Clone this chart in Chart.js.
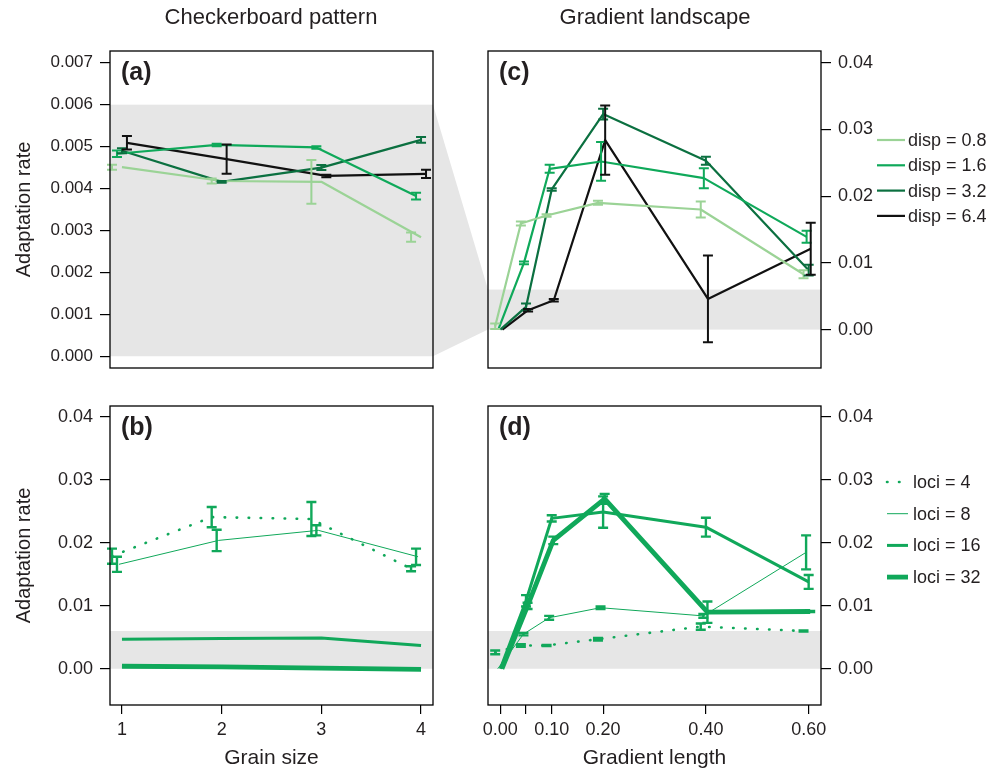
<!DOCTYPE html>
<html>
<head>
<meta charset="utf-8">
<script src="https://cdn.jsdelivr.net/npm/chart.js@4.4.1/dist/chart.umd.min.js"></script>
<style>
  body { margin:0; background:#fff; width:989px; height:773px; position:relative; overflow:hidden;
         font-family:"Liberation Sans", Arial, sans-serif; color:#231f20; }
  canvas { position:absolute; }
  .coltitle { position:absolute; top:4px; font-size:22px; transform:translateX(-50%); white-space:nowrap; }
</style>
</head>
<body>
<canvas id="bg" width="989" height="773" style="left:0;top:0"></canvas>
<div class="coltitle" style="left:271px">Checkerboard pattern</div>
<div class="coltitle" style="left:655px">Gradient landscape</div>
<canvas id="panelA" width="445" height="340" style="left:0;top:40px"></canvas>
<canvas id="panelB" width="445" height="378" style="left:0;top:395px"></canvas>
<canvas id="panelC" width="544" height="340" style="left:445px;top:40px"></canvas>
<canvas id="panelD" width="544" height="378" style="left:445px;top:395px"></canvas>
<script>
// ---- data ----
const grainSize = [1, 2, 3, 4];
const gradientLength = [0, 0.05, 0.10, 0.20, 0.40, 0.60];
const checkerTicks = [0, 0.001, 0.002, 0.003, 0.004, 0.005, 0.006, 0.007];
const rateTicks = [0, 0.01, 0.02, 0.03, 0.04];
const shadeTop = 0.006;

const dispLabels = ['disp = 0.8', 'disp = 1.6', 'disp = 3.2', 'disp = 6.4'];
const lociLabels = ['loci = 4', 'loci = 8', 'loci = 16', 'loci = 32'];

// (a) checkerboard, by dispersal
const aDisp08 = [0.00451, 0.00418, 0.00416, 0.00284];
const aDisp08Err = [0.00006, 0.00006, 0.00052, 0.00011];
const aDisp16 = [0.00483, 0.00504, 0.00498, 0.00382];
const aDisp16Err = [0.00008, 0.00003, 0.00003, 0.00008];
const aDisp32 = [0.00490, 0.00416, 0.00450, 0.00516];
const aDisp32Err = [0.00006, 0.00002, 0.00006, 0.00007];
const aDisp64 = [0.00509, 0.00470, 0.00430, 0.00435];
const aDisp64Err = [0.00016, 0.00035, 0.00003, 0.00010];

// (b) checkerboard, by number of loci
const bLoci4 = [0.0179, 0.0241, 0.0238, 0.0159];
const bLoci4Err = [0.0012, 0.0016, 0.0027, 0.0004];
const bLoci8 = [0.0166, 0.0204, 0.0220, 0.0178];
const bLoci8Err = [0.0012, 0.0017, 0.0008, 0.0013];
const bLoci16 = [0.0047, 0.0048, 0.0049, 0.0037];
const bLoci16Err = [0, 0, 0, 0];
const bLoci32 = [0.0004, 0.0003, 0.0001, -0.0001];
const bLoci32Err = [0, 0, 0, 0];

// (c) gradient, by dispersal
const cDisp08 = [0.0005, 0.0159, 0.0171, 0.0190, 0.0180, 0.0083];
const cDisp08Err = [0.0004, 0.0003, 0.0002, 0.0003, 0.0012, 0.0006];
const cDisp16 = [0.0, 0.0100, 0.0241, 0.0252, 0.0227, 0.0139];
const cDisp16Err = [0, 0.0002, 0.0006, 0.0029, 0.0015, 0.0009];
const cDisp32 = [0.0, 0.0034, 0.0210, 0.0323, 0.0253, 0.0089];
const cDisp32Err = [0, 0.0005, 0.0002, 0.0008, 0.0006, 0.0008];
const cDisp64 = [0.0, 0.0029, 0.0044, 0.0284, 0.0046, 0.0121];
const cDisp64Err = [0, 0.0002, 0.0002, 0.0052, 0.0065, 0.0039];

// (d) gradient, by number of loci
const dLoci4 = [0.0026, 0.0037, 0.0037, 0.0047, 0.0067, 0.0060];
const dLoci4Err = [0.0003, 0.0002, 0.0001, 0.0002, 0.0005, 0.0001];
const dLoci8 = [0.0, 0.0055, 0.0081, 0.0097, 0.0084, 0.0185];
const dLoci8Err = [0, 0.0002, 0.0003, 0.0002, 0.0003, 0.0027];
const dLoci16 = [0.0, 0.0108, 0.0239, 0.0249, 0.0225, 0.0138];
const dLoci16Err = [0, 0.0009, 0.0005, 0.0025, 0.0015, 0.0011];
const dLoci32 = [0.0, 0.0100, 0.0204, 0.0270, 0.0090, 0.0091];
const dLoci32Err = [0, 0.0005, 0.0006, 0.0008, 0.0017, 0.0001];

// ---- styles ----
const FONT = '"Liberation Sans", Arial, sans-serif';
const INK = '#231f20';
const dispColors = ['#9bd396', '#0fa95a', '#0b7040', '#111111'];
const lociGreen = '#10a85a';
const lociWidths = [2.6, 1, 3, 4.8];
const lociDash = [[0.5, 11.5], [], [], []];
// small horizontal dodge so the bars don't overlap
const aLineDodge = [0, -0.05, 0, 0.05], aBarDodge = [-0.1, -0.05, 0, 0.05];
const bLineDodge = [-0.1, -0.03, 0, 0], bBarDodge = [-0.1, -0.05, 0, 0];
const cDodge = [-0.01, -0.004, 0, 0.004];
const dDodge = [-0.01, -0.005, 0, 0.003];

Chart.defaults.font.family = FONT;
Chart.defaults.color = INK;

function series(label, xs, ys, errs, color, width, dash, lineDx, barDx, errWidth) {
  return {
    label: label,
    data: xs.map((x, i) => ({x: x + lineDx, y: ys[i]})),
    xs: xs, ys: ys, errs: errs, barDx: barDx, errWidth: errWidth,
    borderColor: color, backgroundColor: color,
    borderWidth: width, borderDash: dash, borderCapStyle: dash.length ? 'round' : 'butt',
    borderJoinStyle: 'round', pointRadius: 0, tension: 0, fill: false
  };
}

const panelPlugin = {
  id: 'panel',
  beforeDatasetsDraw(chart, args, opts) {
    const {ctx, chartArea: a, scales: {y}} = chart;
    const y1 = y.getPixelForValue(shadeTop), y0 = y.getPixelForValue(0);
    ctx.save();
    ctx.fillStyle = '#e6e6e6';
    ctx.fillRect(a.left, y1, a.right - a.left, y0 - y1);
    ctx.restore();
  },
  afterDatasetsDraw(chart, args, opts) {
    const {ctx, chartArea: a, scales: {x, y}} = chart;
    ctx.save();
    // error bars
    chart.data.datasets.forEach(ds => {
      ctx.strokeStyle = ds.borderColor;
      ctx.lineWidth = ds.errWidth;
      ctx.setLineDash([]);
      ds.xs.forEach((xv, i) => {
        const e = ds.errs[i];
        if (!e) return;
        const px = x.getPixelForValue(xv + ds.barDx);
        const t = y.getPixelForValue(ds.ys[i] + e), b = y.getPixelForValue(ds.ys[i] - e);
        ctx.beginPath();
        ctx.moveTo(px, t); ctx.lineTo(px, b);
        ctx.moveTo(px - 5, t); ctx.lineTo(px + 5, t);
        ctx.moveTo(px - 5, b); ctx.lineTo(px + 5, b);
        ctx.stroke();
      });
    });
    // frame
    ctx.strokeStyle = '#000';
    ctx.lineWidth = 1.3;
    ctx.strokeRect(a.left, a.top, a.right - a.left, a.bottom - a.top);
    // panel tag
    ctx.fillStyle = INK;
    ctx.font = 'bold 25px ' + FONT;
    ctx.textAlign = 'left';
    ctx.textBaseline = 'middle';
    ctx.fillText(opts.tag, a.left + 11, a.top + 22);
    // legend at the right
    const L = opts.legend;
    if (L) {
      ctx.font = '18px ' + FONT;
      chart.data.datasets.forEach((ds, i) => {
        const yy = a.top + L.y0 + i * L.step;
        ctx.strokeStyle = ds.borderColor;
        ctx.lineWidth = ds.borderWidth;
        ctx.setLineDash(ds.borderDash);
        ctx.lineCap = ds.borderCapStyle;
        ctx.beginPath();
        ctx.moveTo(a.right + L.x0, yy);
        ctx.lineTo(a.right + L.x0 + L.len, yy);
        ctx.stroke();
        ctx.fillText(ds.label, a.right + L.tx, yy + 1);
      });
    }
    ctx.restore();
  }
};

function yAxis(pos, ticks, digits, min, max, width, title, size) {
  return {
    type: 'linear', position: pos, min: min, max: max,
    afterBuildTicks: s => { s.ticks = ticks.map(v => ({value: v})); },
    afterFit: s => { s.width = width; s.paddingTop = 0; s.paddingBottom = 0; },
    grid: {display: true, drawOnChartArea: false, drawTicks: true, tickLength: 10, color: '#000', lineWidth: 1.2},
    border: {display: false},
    ticks: {padding: 7, font: {size: size}, color: INK, callback: v => v.toFixed(digits)},
    title: title ? {display: true, text: title, font: {size: 20}, color: INK, padding: {top: 12, bottom: 0}} : {display: false}
  };
}

function xAxis(show, ticks, min, max, fmt, title) {
  return {
    type: 'linear', position: 'bottom', min: min, max: max, display: show,
    afterBuildTicks: s => { s.ticks = ticks.map(v => ({value: v})); },
    afterFit: s => { s.height = show ? 68 : 0; s.paddingLeft = 0; s.paddingRight = 0; },
    grid: {display: true, drawOnChartArea: false, drawTicks: true, tickLength: 9, color: '#000', lineWidth: 1.2},
    border: {display: false},
    ticks: {padding: 5, font: {size: 18}, color: INK, autoSkip: false, maxRotation: 0, callback: fmt},
    title: {display: !!title, text: title || '', font: {size: 21}, color: INK, padding: {top: 0, bottom: 2}}
  };
}

function makeChart(id, datasets, scales, padding, tag, legend) {
  return new Chart(document.getElementById(id), {
    type: 'line',
    data: {datasets: datasets},
    options: {
      responsive: false, animation: false, devicePixelRatio: 1,
      layout: {padding: padding},
      scales: scales,
      plugins: {legend: {display: false}, tooltip: {enabled: false}, panel: {tag: tag, legend: legend}}
    },
    plugins: [panelPlugin]
  });
}

const aSeries = [aDisp08, aDisp16, aDisp32, aDisp64], aErrs = [aDisp08Err, aDisp16Err, aDisp32Err, aDisp64Err];
const bSeries = [bLoci4, bLoci8, bLoci16, bLoci32], bErrs = [bLoci4Err, bLoci8Err, bLoci16Err, bLoci32Err];
const cSeries = [cDisp08, cDisp16, cDisp32, cDisp64], cErrs = [cDisp08Err, cDisp16Err, cDisp32Err, cDisp64Err];
const dSeries = [dLoci4, dLoci8, dLoci16, dLoci32], dErrs = [dLoci4Err, dLoci8Err, dLoci16Err, dLoci32Err];

const chartA = makeChart('panelA',
  aSeries.map((s, i) => series(dispLabels[i], grainSize, s, aErrs[i], dispColors[i], 2.2, [], aLineDodge[i], aBarDodge[i], 2)),
  {x: xAxis(false, grainSize, 0.88, 4.12, v => String(v)),
   y: yAxis('left', checkerTicks, 3, -0.00028, 0.00728, 110, 'Adaptation rate', 17)},
  {left: 0, right: 12, top: 11, bottom: 12}, '(a)', null);

const chartB = makeChart('panelB',
  bSeries.map((s, i) => series(lociLabels[i], grainSize, s, bErrs[i], lociGreen, lociWidths[i], lociDash[i], bLineDodge[i], bBarDodge[i], 2.4)),
  {x: xAxis(true, grainSize, 0.88, 4.12, v => String(v), 'Grain size'),
   y: yAxis('left', rateTicks, 2, -0.00576, 0.04176, 110, 'Adaptation rate', 18)},
  {left: 0, right: 12, top: 11, bottom: 0}, '(b)', null);

const chartC = makeChart('panelC',
  cSeries.map((s, i) => series(dispLabels[i], gradientLength, s, cErrs[i], dispColors[i], 2.2, [], cDodge[i], cDodge[i], 2)),
  {x: xAxis(false, gradientLength, -0.024, 0.624, v => v.toFixed(2)),
   y: yAxis('right', rateTicks, 2, -0.00576, 0.04176, 60, null, 18)},
  {left: 43, right: 108, top: 11, bottom: 12}, '(c)',
  {x0: 56, len: 28, tx: 87, y0: 89, step: 25.3});

const chartD = makeChart('panelD',
  dSeries.map((s, i) => series(lociLabels[i], gradientLength, s, dErrs[i], lociGreen, lociWidths[i], lociDash[i], dDodge[i], dDodge[i], 2.4)),
  {x: xAxis(true, gradientLength, -0.024, 0.624, v => (v === 0.05 ? '' : v.toFixed(2)), 'Gradient length'),
   y: yAxis('right', rateTicks, 2, -0.00576, 0.04176, 60, null, 18)},
  {left: 43, right: 108, top: 11, bottom: 0}, '(d)',
  {x0: 66, len: 21, tx: 92, y0: 76, step: 31.7});

// grey wedge linking the shaded band of (a) to the same band in (c)
const bg = document.getElementById('bg').getContext('2d');
const cvA = chartA.canvas, cvC = chartC.canvas;
const ax = cvA.offsetLeft + chartA.chartArea.right;
const cx = cvC.offsetLeft + chartC.chartArea.left;
bg.fillStyle = '#e6e6e6';
bg.beginPath();
bg.moveTo(ax, cvA.offsetTop + chartA.scales.y.getPixelForValue(shadeTop));
bg.lineTo(cx, cvC.offsetTop + chartC.scales.y.getPixelForValue(shadeTop));
bg.lineTo(cx, cvC.offsetTop + chartC.scales.y.getPixelForValue(0));
bg.lineTo(ax, cvA.offsetTop + chartA.scales.y.getPixelForValue(0));
bg.closePath();
bg.fill();
</script>
</body>
</html>
